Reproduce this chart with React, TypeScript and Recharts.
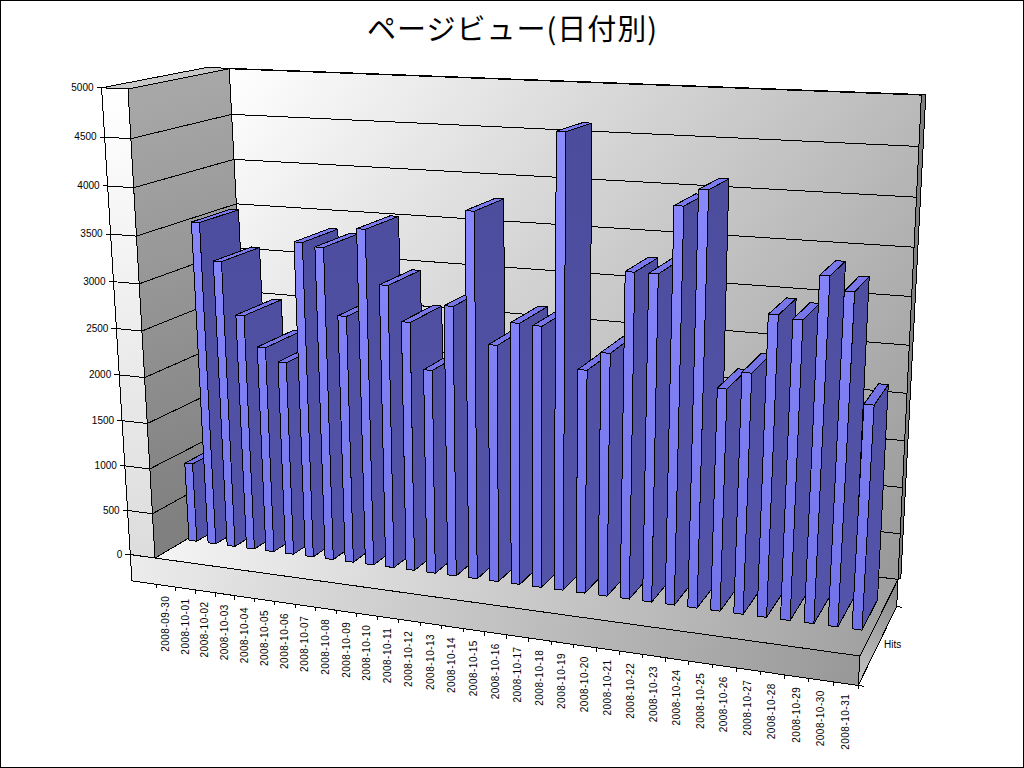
import { BarChart, Bar, XAxis, YAxis, Customized } from 'recharts'

// daily page views
const dates = [
  '2008-09-30', '2008-10-01', '2008-10-02', '2008-10-03', '2008-10-04', '2008-10-05', '2008-10-06', '2008-10-07',
  '2008-10-08', '2008-10-09', '2008-10-10', '2008-10-11', '2008-10-12', '2008-10-13', '2008-10-14', '2008-10-15',
  '2008-10-16', '2008-10-17', '2008-10-18', '2008-10-19', '2008-10-20', '2008-10-21', '2008-10-22', '2008-10-23',
  '2008-10-24', '2008-10-25', '2008-10-26', '2008-10-27', '2008-10-28', '2008-10-29', '2008-10-30', '2008-10-31'
]
const hits = [
  888, 3558, 3159, 2597, 2271, 2129, 3426, 3390,
  2685, 3610, 3047, 2680, 2196, 2885, 3869, 2522,
  2768, 2758, 4700, 2350, 2544, 3375, 3374, 4050,
  4220, 2292, 2473, 3065, 3036, 3478, 3343, 2271
]
const yTicks = [0, 500, 1000, 1500, 2000, 2500, 3000, 3500, 4000, 4500, 5000]

const chartData = dates.map((date, i) => ({ date, hits: hits[i] }))

const W = 1024
const H = 768
// axes need 1px each or recharts drops their ticks
const PW = W - 1
const PH = H - 1
const FONT = '"Liberation Sans", Arial, sans-serif'
const WALL = 0.04 // left wall thickness
const SLAB = 0.06 // floor thickness
const BAR_FRONT = 0.3
const BAR_BACK = 0.7
const BAR_SHIFT = 0.0041

// flat chart coordinates -> the tilted box of the picture
// u: along the dates, v: height, w: depth
function project(u: number, v: number, w: number): [number, number] {
  const d = 1 - 0.121 * u + 0.088 * w - 0.062 * v
  const x = (155 + 600.9 * u + 119.2 * w - 34.9 * v) / d - 7 * u * w + 8 * u * v * (1 - w) - 4 * w * v * (1 - u)
  const y = (558 + 18.6 * u - 12.9 * w - 474.5 * v) / d - 3.5 * u * w
  return [x, y]
}

const toU = (x: number) => (x - 1) / PW
const toV = (y: number) => (PH - y) / PH

const poly = (...p: [number, number, number][]) =>
  p.map(q => project(q[0], q[1], q[2]).map(n => n.toFixed(1)).join(',')).join(' ')

function Line3D({ from, to }: { from: [number, number, number]; to: [number, number, number] }) {
  const a = project(from[0], from[1], from[2])
  const b = project(to[0], to[1], to[2])
  return <line x1={a[0]} y1={a[1]} x2={b[0]} y2={b[1]} stroke="#000" shapeRendering="crispEdges" />
}

function Grad({ id, x1, y1, x2, y2, from, to }: any) {
  return (
    <linearGradient id={id} gradientUnits="userSpaceOnUse" x1={x1} y1={y1} x2={x2} y2={y2}>
      <stop offset="0" stopColor={from} />
      <stop offset="1" stopColor={to} />
    </linearGradient>
  )
}

// walls, floor and grid of the box
function Backdrop() {
  const face = { stroke: '#000', strokeWidth: 1, shapeRendering: 'crispEdges' as const }
  return (
    <g>
      <defs>
        <Grad id="backWall" x1={230} y1={70} x2={900} y2={580} from="#ffffff" to="#989898" />
        <Grad id="sideWall" x1={130} y1={90} x2={250} y2={500} from="#a8a8a8" to="#808080" />
        <Grad id="frontWall" x1={110} y1={90} x2={140} y2={560} from="#ffffff" to="#dcdcdc" />
        <Grad id="floorTop" x1={160} y1={560} x2={880} y2={640} from="#f4f4f4" to="#a0a0a0" />
        <Grad id="slabFront" x1={130} y1={570} x2={860} y2={670} from="#ececec" to="#989898" />
        <Grad id="slabSide" x1={860} y1={680} x2={897} y2={590} from="#c4c4c4" to="#8a8a8a" />
        <Grad id="barFront" x1={0} y1={120} x2={0} y2={640} from="#8c8cff" to="#7272e8" />
        <Grad id="barSide" x1={0} y1={120} x2={0} y2={640} from="#4c4c9c" to="#5454ac" />
        <Grad id="barTop" x1={0} y1={120} x2={0} y2={640} from="#7e7ef0" to="#6a6adc" />
      </defs>
      <text
        x={512}
        y={40}
        textAnchor="middle"
        fontSize={29}
        textLength={290}
        lengthAdjust="spacing"
        fontFamily='"Noto Sans CJK JP", sans-serif'
        fill="#000"
      >
        ページビュー(日付別)
      </text>

      <polygon points={poly([0, 1, 1], [1, 1, 1], [1, 0, 1], [0, 0, 1])} fill="url(#backWall)" {...face} />
      <polygon points={poly([0, 1, 1], [1, 1, 1], [1.005, 1, 1.02], [0, 1, 1.02])} fill="#8c8c8c" {...face} />
      <polygon points={poly([1, 1, 1], [1.005, 1, 1.02], [1.003, 0, 1.02], [1, 0, 1])} fill="#808080" {...face} />
      <polygon points={poly([0, 1, 0], [0, 1, 1], [0, 0, 1], [0, 0, 0])} fill="url(#sideWall)" {...face} />
      <polygon points={poly([-WALL, 1, 0], [0, 1, 0], [0, 1, 1.02], [-WALL, 1, 1.02])} fill="#c8c8c8" {...face} />
      <polygon points={poly([-WALL, 1, 0], [0, 1, 0], [0, 0, 0], [-WALL, 0, 0])} fill="url(#frontWall)" {...face} />
      <polygon points={poly([0, 0, 0], [1, 0, 0], [1, 0, 1], [0, 0, 1])} fill="url(#floorTop)" {...face} />
      <polygon points={poly([-WALL, 0, 0], [1, 0, 0], [1, -SLAB, 0], [-WALL, -SLAB, 0])} fill="url(#slabFront)" {...face} />
      <polygon points={poly([1, 0, 0], [1, 0, 1], [1, -SLAB, 1], [1, -SLAB, 0])} fill="url(#slabSide)" {...face} />

      {yTicks.map(t => {
        const v = t / 5000
        return (
          <g key={t}>
            {t > 0 && <Line3D from={[0, v, 1]} to={[1, v, 1]} />}
            <Line3D from={[0, v, 0]} to={[0, v, 1]} />
            <Line3D from={[-WALL, v, 0]} to={[0, v, 0]} />
          </g>
        )
      })}
      {dates.concat('end').map((d, i) => {
        const a = project(i / dates.length, -SLAB, 0)
        return <line key={d} x1={a[0]} y1={a[1]} x2={a[0]} y2={a[1] + 4} stroke="#000" shapeRendering="crispEdges" />
      })}
      <Line3D from={[1, -SLAB, 0]} to={[1.007, -SLAB, 0]} />
      <Line3D from={[1, -SLAB, 1]} to={[1.007, -SLAB, 1]} />
      <text x={884} y={648} fontSize={10} fontFamily={FONT} fill="#000">Hits</text>
    </g>
  )
}

// one bar, drawn as a box out of the rectangle the scales give
function Bar3D({ x, y, width }: any) {
  const u0 = toU(x) - BAR_SHIFT
  const u1 = u0 + width / PW
  const v = toV(y)
  const vb = v - 0.01 * u0 * v // tall bars on the right rise a little less towards the back
  const f = BAR_FRONT
  const b = BAR_BACK
  const face = { stroke: '#000', strokeWidth: 1, strokeLinejoin: 'round' as const, shapeRendering: 'crispEdges' as const }
  return (
    <g>
      <polygon points={poly([u1, v, f], [u1, vb, b], [u1, 0, b], [u1, 0, f])} fill="url(#barSide)" {...face} />
      <polygon points={poly([u0, v, f], [u1, v, f], [u1, vb, b], [u0, vb, b])} fill="url(#barTop)" {...face} />
      <polygon points={poly([u0, v, f], [u1, v, f], [u1, 0, f], [u0, 0, f])} fill="url(#barFront)" {...face} />
    </g>
  )
}

function DateTick({ x, payload }: any) {
  const a = project(toU(x), -SLAB, 0)
  const px = a[0] + 3
  const py = a[1] + 10
  return (
    <text
      x={px}
      y={py}
      transform={`rotate(-90 ${px} ${py})`}
      textAnchor="end"
      fontSize={10}
      letterSpacing={0.5}
      fontFamily={FONT}
      fill="#000"
    >
      {payload.value}
    </text>
  )
}

function HitsTick({ y, payload }: any) {
  const a = project(-WALL, toV(y), 0)
  return (
    <g>
      <line x1={a[0] - 5} y1={a[1]} x2={a[0]} y2={a[1]} stroke="#000" shapeRendering="crispEdges" />
      <text x={a[0] - 8} y={a[1] + 3} textAnchor="end" fontSize={10} fontFamily={FONT} fill="#000">
        {payload.value}
      </text>
    </g>
  )
}

export default function App() {
  return (
    <div style={{ position: 'absolute', left: 0, top: 0, width: W, height: H, background: '#fff' }}>
      <BarChart width={W} height={H} data={chartData} margin={{ top: 0, right: 0, bottom: 0, left: 0 }} barCategoryGap="30%">
        <Customized component={<Backdrop />} />
        <XAxis dataKey="date" height={1} interval={0} axisLine={false} tickLine={false} tick={<DateTick />} />
        <YAxis width={1} domain={[0, 5000]} ticks={yTicks} interval={0} axisLine={false} tickLine={false} tick={<HitsTick />} />
        <Bar dataKey="hits" isAnimationActive={false} shape={<Bar3D />} />
      </BarChart>
      <div style={{ position: 'absolute', inset: 0, boxSizing: 'border-box', border: '1px solid #000', pointerEvents: 'none' }} />
    </div>
  )
}
